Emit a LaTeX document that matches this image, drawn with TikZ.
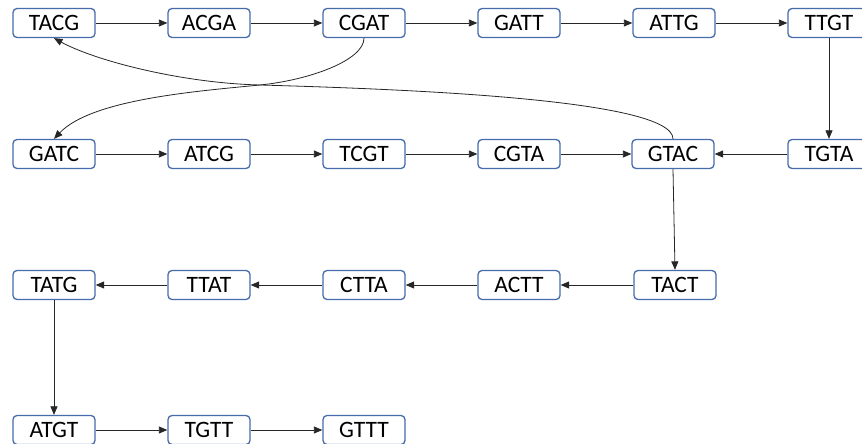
\documentclass[tikz,border=0pt]{standalone}
\usepackage{fontspec}
\setmainfont{Carlito}
\usetikzlibrary{arrows.meta}
\definecolor{kmerblue}{RGB}{70,108,172}
\tikzset{
  kmer/.style={draw=kmerblue, line width=1.3pt, rounded corners=4pt, fill=white,
    minimum width=82pt, minimum height=29pt, inner sep=0pt,
    font=\fontsize{23.5}{25}\selectfont},
  link/.style={draw=black!85, line width=0.8pt, -{Triangle[length=8.5pt,width=7pt]}}
}
\begin{document}
\begin{tikzpicture}[x=1pt,y=1pt]
  \useasboundingbox (0,0) rectangle (862,444);
  % first row
  \node[kmer] (tacg) at (54,421) {TACG};
  \node[kmer] (acga) at (209,421) {ACGA};
  \node[kmer] (cgat) at (364,421) {CGAT};
  \node[kmer] (gatt) at (519,421) {GATT};
  \node[kmer] (attg) at (674,421) {ATTG};
  \node[kmer] (ttgt) at (829,421) {TTGT};
  % second row
  \node[kmer] (gatc) at (54,290) {GATC};
  \node[kmer] (atcg) at (209,290) {ATCG};
  \node[kmer] (tcgt) at (364,290) {TCGT};
  \node[kmer] (cgta) at (519,290) {CGTA};
  \node[kmer] (gtac) at (673,290) {GTAC};
  \node[kmer] (tgta) at (829,290) {TGTA};
  % third row
  \node[kmer] (tatg) at (54,159) {TATG};
  \node[kmer] (ttat) at (209,159) {TTAT};
  \node[kmer] (ctta) at (364,159) {CTTA};
  \node[kmer] (actt) at (519,159) {ACTT};
  \node[kmer] (tact) at (675,159) {TACT};
  % last row
  \node[kmer] (atgt) at (54,14) {ATGT};
  \node[kmer] (tgtt) at (209,14) {TGTT};
  \node[kmer] (gttt) at (364,14) {GTTT};

  % straight edges
  \draw[link] (tacg) -- (acga);
  \draw[link] (acga) -- (cgat);
  \draw[link] (cgat) -- (gatt);
  \draw[link] (gatt) -- (attg);
  \draw[link] (attg) -- (ttgt);
  \draw[link] (ttgt) -- (tgta);
  \draw[link] (tgta) -- (gtac);
  \draw[link] (gatc) -- (atcg);
  \draw[link] (atcg) -- (tcgt);
  \draw[link] (tcgt) -- (cgta);
  \draw[link] (cgta) -- (gtac);
  \draw[link] (gtac.south) -- (tact.north);
  \draw[link] (tact) -- (actt);
  \draw[link] (actt) -- (ctta);
  \draw[link] (ctta) -- (ttat);
  \draw[link] (ttat) -- (tatg);
  \draw[link] (tatg) -- (atgt);
  \draw[link] (atgt) -- (tgtt);
  \draw[link] (tgtt) -- (gttt);

  % curved edges, both pass the crossing point
  \coordinate (cross) at (260,359);
  \draw[link] (cgat.south) .. controls +(0,-22) and +(50,5) .. (cross)
    .. controls +(-60,-6) and +(38,40) .. (gatc.north);
  \draw[link] (gtac.north) .. controls +(0,40) and +(140,-4) .. (cross)
    .. controls +(-80,2) and +(40,-22) .. (tacg.south);
\end{tikzpicture}
\end{document}
